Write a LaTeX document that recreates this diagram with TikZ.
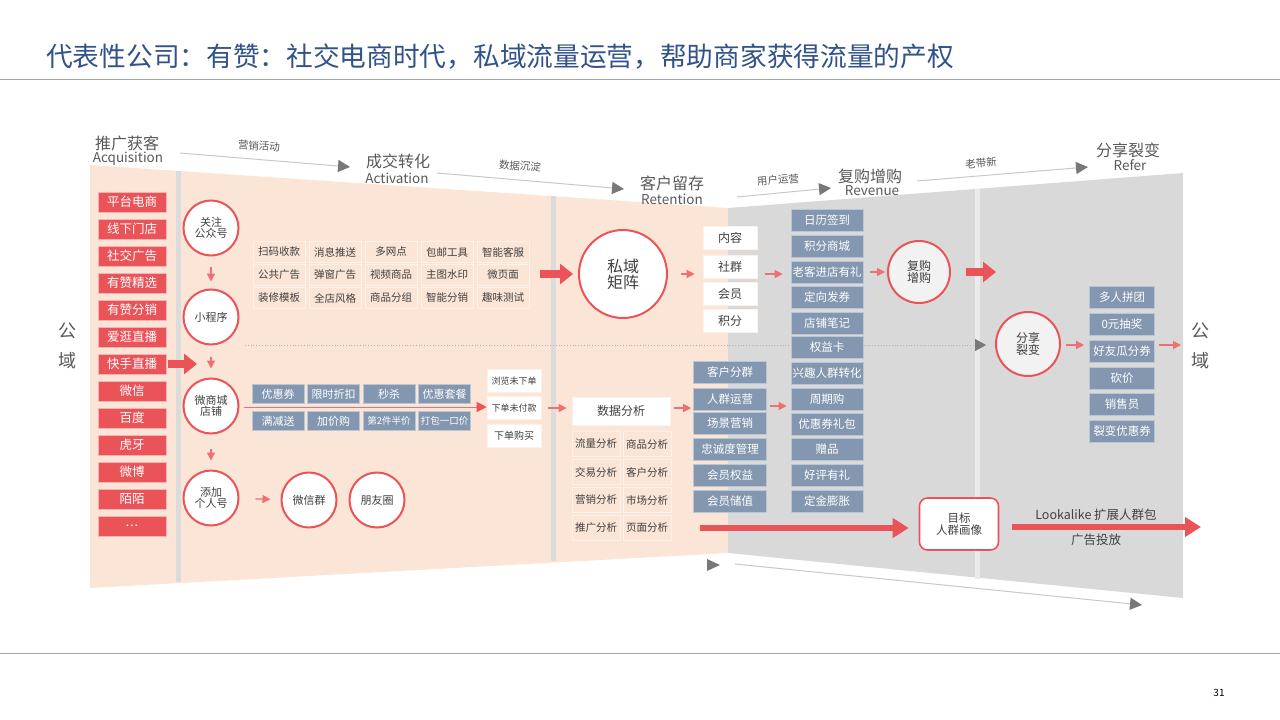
\documentclass[tikz,border=0pt]{standalone}
\usepackage{fontspec}
\setmainfont{Noto Sans CJK SC}
\usetikzlibrary{arrows.meta,calc}
\definecolor{redc}{RGB}{234,84,89}
\definecolor{redl}{RGB}{238,112,114}
\definecolor{peach}{RGB}{251,229,214}
\definecolor{gridb}{RGB}{253,241,233}
\definecolor{graybg}{RGB}{217,217,217}
\definecolor{bluec}{RGB}{132,151,176}
\definecolor{txt}{RGB}{64,64,64}
\definecolor{stg}{RGB}{89,89,89}
\definecolor{titlec}{RGB}{50,82,138}
\definecolor{glin}{RGB}{200,200,200}
\definecolor{garr}{RGB}{120,120,120}
\definecolor{rule}{RGB}{166,166,166}
\newcommand\myfs[1]{\fontsize{#1}{#1}\selectfont}
\begin{document}
\begin{tikzpicture}[x=1pt,y=-1pt,
  redbox/.style={fill=redc,draw=redc!45!white,line width=0.8pt,text=white,minimum width=68pt,minimum height=20pt,inner sep=0pt,font=\myfs{12.5}},
  gridbox/.style={fill=peach,draw=gridb,line width=1pt,text=txt,minimum width=52pt,minimum height=21pt,inner sep=0pt,font=\myfs{10.5}},
  bluebox/.style={fill=bluec,draw=bluec!55!white,line width=0.6pt,text=white,minimum height=22pt,inner sep=0pt,font=\myfs{11.5}},
  whitebox/.style={fill=white,draw=gridb,line width=0.6pt,text=txt,minimum width=54pt,minimum height=23pt,inner sep=0pt,font=\myfs{12}},
  anbox/.style={fill=peach,draw=gridb,line width=1pt,text=txt,minimum width=48pt,minimum height=25pt,inner sep=0pt,font=\myfs{10.5}},
  circ/.style={circle,draw=redc,line width=2pt,fill=white,inner sep=0pt,align=center,text=txt,font=\myfs{11},minimum size=55pt},
  sarrow/.style={draw=redl,line width=1.3pt,-{Triangle[length=8pt,width=8pt]}},
  bigarrow/.style={draw=redc,line width=8pt,-{Triangle[length=13pt,width=20pt]}},
  midarrow/.style={draw=redc,line width=6pt,-{Triangle[length=16pt,width=19pt]}},
  garrow/.style={draw=glin,line width=1pt,-{Triangle[length=12pt,width=12pt,color=garr]}},
  stage/.style={text=stg,inner sep=0pt},
  lab/.style={text=stg,font=\myfs{10.5},inner sep=0pt},
]
\useasboundingbox (0,0) rectangle (1280,720);
\fill[white] (0,0) rectangle (1280,720);

% title and rules
\node[anchor=west,text=titlec,font=\myfs{26.7},inner sep=0pt] (title) at (46,57) {代表性公司：有赞：社交电商时代，私域流量运营，帮助商家获得流量的产权};
\draw[rule,line width=1pt] (0,79) -- (1280,79);
\draw[rule,line width=1pt] (0,653) -- (1280,653);
\node[font=\myfs{10},text=black,inner sep=0pt] (pg) at (1219,693) {31};

% background bands
\fill[peach] (90,165) -- (728,208) -- (728,553) -- (90,588) -- cycle;
\fill[graybg] (728,208) -- (1183,173) -- (1183,598) -- (728,553) -- cycle;
\fill[black!14] (176,171) rectangle (181,582);
\fill[black!14] (551,196) rectangle (556,561);
\fill[black!8] (975,189) rectangle (980,579);

% stage titles
\node[stage,font=\myfs{16}] (s1) at (127,143) {推广获客};
\node[stage,font=\myfs{13.5}] (s1e) at (128,159) {Acquisition};
\node[stage,font=\myfs{16}] (s2) at (398,161) {成交转化};
\node[stage,font=\myfs{13.5}] (s2e) at (397,178) {Activation};
\node[stage,font=\myfs{16}] (s3) at (672,183) {客户留存};
\node[stage,font=\myfs{13.5}] (s3e) at (672,199) {Retention};
\node[stage,font=\myfs{16}] (s4) at (870,176) {复购增购};
\node[stage,font=\myfs{13.5}] (s4e) at (872,191) {Revenue};
\node[stage,font=\myfs{16}] (s5) at (1128,150) {分享裂变};
\node[stage,font=\myfs{13.5}] (s5e) at (1130,165) {Refer};

% top flow arrows
\coordinate (a1s) at (180,153); \coordinate (a1e) at (350,167);
\coordinate (a2s) at (437,173); \coordinate (a2e) at (624,189);
\coordinate (a3s) at (737,197); \coordinate (a3e) at (831,188);
\coordinate (a4s) at (917,181); \coordinate (a4e) at (1088,167);
\draw[garrow] (a1s) -- (a1e);
\draw[garrow] (a2s) -- (a2e);
\draw[garrow] (a3s) -- (a3e);
\draw[garrow] (a4s) -- (a4e);
\node[lab,rotate=-4.5] (l1) at (259,146) {营销活动};
\node[lab,rotate=-4.5] (l2) at (520,166) {数据沉淀};
\node[lab,rotate=5] (l3) at (778,180) {用户运营};
\node[lab,rotate=4.5] (l4) at (981,163) {老带新};

% bottom return arrow
\fill[garr] (707,559) -- (720,565) -- (707,571) -- cycle;
\coordinate (b1s) at (735,564); \coordinate (b1e) at (1142,605);
\draw[garrow] (b1s) -- (b1e);

% public domain labels
\node[stage,font=\myfs{18},align=center] (gyl) at (67,346) {公\\[12pt]域};
\node[stage,font=\myfs{18},align=center] (gyr) at (1200,346) {公\\[12pt]域};

% left red column
\foreach \t [count=\i from 0] in {平台电商,线下门店,社交广告,有赞精选,有赞分销,爱逛直播,快手直播,微信,百度,虎牙,微博,陌陌}
  \node[redbox] (r\i) at (132,202+27*\i) {\t};
\node[redbox] (r12) at (132,526) {.\kern1pt.\kern1pt.};

% dotted middle line
\coordinate (dls) at (245,345); \coordinate (dle) at (986,345);
\draw[draw=black!30,line width=0.8pt,dotted,-{Triangle[length=11pt,width=12pt,color=garr]}] (dls) -- (dle);

% circles, activation column
\node[circ] (gz) at (211,228) {关注\\公众号};
\node[circ] (xcx) at (211,317) {小程序};
\node[circ] (wsc) at (211,406) {微商城\\店铺};
\node[circ] (tj) at (211,498) {添加\\个人号};
\node[circ] (wxq) at (309,500) {微信群};
\node[circ] (pyq) at (377,500) {朋友圈};

\draw[sarrow,shorten <=10pt,shorten >=7pt] (gz) -- (xcx);
\draw[sarrow,shorten <=11pt,shorten >=9pt] (xcx) -- (wsc);
\draw[sarrow,shorten <=14pt,shorten >=9pt] (wsc) -- (tj);
\draw[sarrow,shorten <=16pt,shorten >=10pt] (tj) -- (wxq);

% big arrow from 快手直播
\coordinate (kse) at (197,364);
\draw[bigarrow,shorten <=2pt] (r6.east) -- (kse);

% feature grid
\foreach \t [count=\i from 0] in {扫码收款,消息推送,多网点,包邮工具,智能客服}
  \node[gridbox] (ga\i) at (279+56*\i,252) {\t};
\foreach \t [count=\i from 0] in {公共广告,弹窗广告,视频商品,主图水印,微页面}
  \node[gridbox] (gb\i) at (279+56*\i,275) {\t};
\foreach \t [count=\i from 0] in {装修模板,全店风格,商品分组,智能分销,趣味测试}
  \node[gridbox] (gc\i) at (279+56*\i,298) {\t};

% private domain
\node[circ,minimum size=88pt,font=\myfs{16}] (sy) at (623,274) {私域\\矩阵};
\coordinate (gas) at (540,274);
\draw[bigarrow,shorten >=5pt] (gas) -- (sy);

\node[whitebox] (nr) at (730,238) {内容};
\node[whitebox] (sq) at (730,267) {社群};
\node[whitebox] (hy) at (730,294) {会员};
\node[whitebox] (jf) at (730,321) {积分};
\draw[sarrow] ($(sy.east)+(13,0)$) -- ($(nr.west|-sy.east)+(-8,0)$);

% revenue column
\foreach \t/\y in {日历签到/220,积分商城/246,老客进店有礼/272,定向发券/297,店铺笔记/323,权益卡/347,兴趣人群转化/373,周期购/399,优惠券礼包/424,赠品/449,好评有礼/475,定金膨胀/501}
  \node[bluebox,minimum width=72pt] (v\y) at (827,\y) {\t};
\draw[sarrow] ($(sq.east|-sy.east)+(8,0)$) -- ($(v272.west)+(-8,2)$);

\node[circ,minimum size=62pt,fill=black!5,font=\myfs{12}] (fg) at (919,272) {复购\\增购};
\draw[sarrow] ($(v272.east)+(7,0)$) -- ($(fg.west)+(-2,0)$);
\coordinate (fge) at (996,272);
\draw[bigarrow,shorten <=15pt] (fg) -- (fge);

% refer
\node[circ,minimum size=64pt,fill=black!5,font=\myfs{12}] (fx) at (1028,344) {分享\\裂变};
\foreach \t/\y in {多人拼团/297,0元抽奖/324,好友瓜分券/351,砍价/378,销售员/404,裂变优惠券/431}
  \node[bluebox,minimum width=65pt] (w\y) at (1122,\y) {\t};
\draw[sarrow] ($(fx.east)+(5,1)$) -- ($(w351.west)+(-5,-6)$);
\coordinate (gyra) at (1181,345);
\draw[sarrow] ($(w351.east)+(4,-6)$) -- (gyra);

% bottom activation area
\node[whitebox,font=\myfs{9}] (llw) at (514,381) {浏览未下单};
\node[whitebox,font=\myfs{9}] (xdw) at (514,408) {下单未付款};
\node[whitebox,font=\myfs{10}] (xdg) at (514,436) {下单购买};
\coordinate (wscr) at (244,407);
\draw[draw=redl,line width=1pt,-{Triangle[length=10pt,width=10pt,color=redc]}] (wscr) -- ($(xdw.west)+(0,-1)$);
\foreach \t [count=\i from 0] in {优惠券,限时折扣,秒杀,优惠套餐}
  \node[bluebox,minimum width=52pt,minimum height=19pt,font=\myfs{11}] (ya\i) at (278+55.5*\i,394) {\t};
\foreach \t [count=\i from 0] in {满减送,加价购}
  \node[bluebox,minimum width=52pt,minimum height=19pt,font=\myfs{11}] (yb\i) at (278+55.5*\i,421) {\t};
\node[bluebox,minimum width=52pt,minimum height=19pt,font=\myfs{9.5}] (yb2) at (389,421) {第2件半价};
\node[bluebox,minimum width=52pt,minimum height=19pt,font=\myfs{9.5}] (yb3) at (444.5,421) {打包一口价};

\node[whitebox,minimum width=98pt,minimum height=28pt] (sj) at (621,411) {数据分析};
\draw[sarrow] ($(xdw.east)+(7,0)$) -- ($(sj.west)+(-5,-3)$);
\foreach \a/\b [count=\i from 0] in {流量分析/商品分析,交易分析/客户分析,营销分析/市场分析,推广分析/页面分析} {
  \node[anbox] (p\i) at (596,444+28*\i) {\a};
  \node[anbox] (q\i) at (647,444+28*\i) {\b};
}

\foreach \t/\y in {客户分群/372,人群运营/399,场景营销/423,忠诚度管理/449,会员权益/475,会员储值/501}
  \node[bluebox,minimum width=73pt] (u\y) at (730,\y) {\t};
\draw[sarrow] ($(sj.east)+(4,-3)$) -- ($(u399.west)+(-2,9)$);
\draw[sarrow] ($(u399.east)+(3,7)$) -- ($(v399.west)+(-4,7)$);

\node[draw=redc,line width=1.6pt,fill=white,rounded corners=8pt,minimum width=79pt,minimum height=52pt,inner sep=0pt,align=center,text=txt,font=\myfs{11.5}] (mb) at (959,524) {目标\\人群画像};
\draw[midarrow,shorten <=28pt,shorten >=10pt] (q3) -- (mb.west|-q3);
\coordinate (lke) at (1201,527);
\draw[midarrow,shorten <=13pt] (mb.east|-lke) -- (lke);
\node[text=txt,font=\myfs{12.5},inner sep=0pt] (lk) at (1096,515) {Lookalike 扩展人群包};
\node[text=txt,font=\myfs{12.5},inner sep=0pt] (gg) at (1096,540) {广告投放};
\end{tikzpicture}
\end{document}
